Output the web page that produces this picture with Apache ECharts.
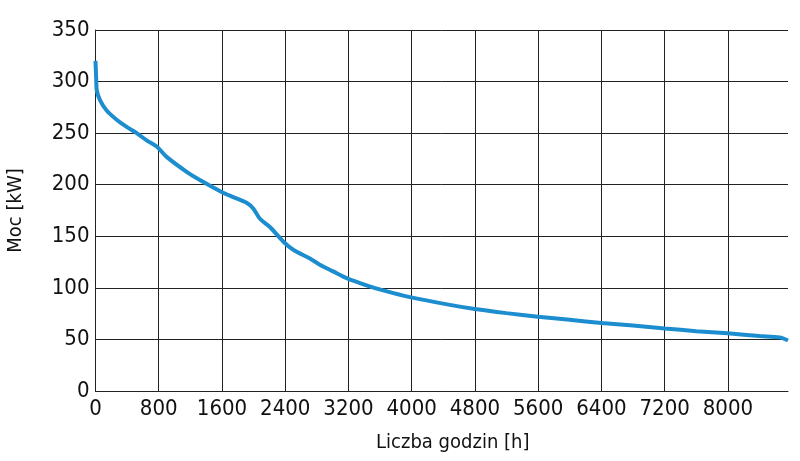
<!DOCTYPE html>
<html>
<head>
<meta charset="utf-8">
<script src="https://cdn.jsdelivr.net/npm/echarts@6/dist/echarts.min.js"></script>
<style>
  html, body { margin: 0; padding: 0; background: #fff; }
  #chart { width: 800px; height: 461px; }
</style>
</head>
<body>
<div id="chart"></div>
<script>
// load duration curve: hours vs power
const hours = [0, 10, 15, 57, 141, 268, 394, 521, 647, 774, 900, 1153, 1320, 1595, 1742, 1911, 1995, 2080, 2206, 2374, 2501, 2712, 2838, 3006, 3176, 3428, 3639, 3977, 4482, 4798, 5198, 5598, 5999, 6399, 6799, 7200, 7600, 8000, 8400, 8653, 8760]
const power = [320, 300, 292, 282, 272, 263, 256, 250, 243, 237, 227, 212.5, 204.5, 193, 188, 182.5, 177, 167, 159, 145, 137, 128.5, 122.5, 116, 109.5, 102.5, 97.5, 91, 83.5, 79.5, 75.5, 72, 69, 66, 63.5, 60.7, 58, 55.9, 53.3, 52, 49]
const xTicks = [0, 800, 1600, 2400, 3200, 4000, 4800, 5600, 6400, 7200, 8000]
const yTicks = [0, 50, 100, 150, 200, 250, 300, 350]

const font = '"DejaVu Sans Condensed", "Liberation Sans Narrow", sans-serif'
const chart = echarts.init(document.getElementById('chart'))

chart.setOption({
  animation: false,
  grid: { left: 95.5, right: 12, top: 30, bottom: 70, outerBoundsMode: 'none', containLabel: false },
  xAxis: {
    type: 'value',
    min: 0,
    max: 8760,
    interval: 800,
    name: 'Liczba godzin [h]',
    nameLocation: 'middle',
    nameGap: 42,
    nameTextStyle: { fontFamily: font, fontSize: 20, color: '#111', padding: [0, 0, 0, 22] },
    axisLine: { lineStyle: { color: '#222', width: 1 } },
    axisTick: { show: false },
    axisLabel: {
      fontFamily: font, fontSize: 22, color: '#111', margin: 7,
      showMaxLabel: false,
      formatter: v => xTicks.includes(v) ? String(v) : ''
    },
    splitLine: { show: true, showMaxLine: false, lineStyle: { color: '#222', width: 1 } }
  },
  yAxis: {
    type: 'value',
    min: yTicks[0],
    max: yTicks[yTicks.length - 1],
    interval: 50,
    name: 'Moc [kW]',
    nameLocation: 'middle',
    nameRotate: 90,
    nameGap: 70,
    nameTextStyle: { fontFamily: font, fontSize: 20, color: '#111' },
    axisLine: { show: true, lineStyle: { color: '#222', width: 1 } },
    axisTick: { show: false },
    axisLabel: { fontFamily: font, fontSize: 22, color: '#111', margin: 6 },
    splitLine: { show: true, lineStyle: { color: '#222', width: 1 } }
  },
  series: [{
    type: 'line',
    data: hours.map((h, i) => [h, power[i]]),
    smooth: 0.3,
    showSymbol: false,
    lineStyle: { color: '#1c8dcf', width: 4 },
    clip: false
  }]
})
</script>
</body>
</html>
